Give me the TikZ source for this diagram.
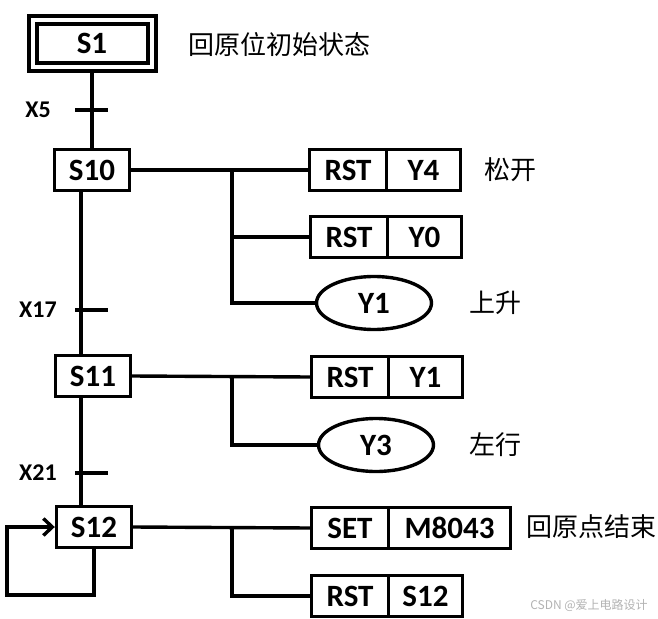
\documentclass[tikz,border=0pt]{standalone}
\usepackage{fontspec}
\setmainfont{Carlito}
\newfontfamily\cjk{Noto Sans CJK SC}
\usetikzlibrary{positioning,arrows.meta,shapes.geometric}

\tikzset{
  stepbox/.style={draw,line width=3.4pt,minimum width=75pt,minimum height=41pt,inner sep=0pt,
    font=\fontsize{31}{34}\selectfont\bfseries},
  initbox/.style={stepbox,double,line width=4pt,double distance=4pt,minimum width=119pt,minimum height=47pt},
  opbox/.style={stepbox,minimum width=77pt},
  argbox/.style={opbox,minimum width=74pt},
  coilbox/.style={stepbox,ellipse,minimum width=115pt,minimum height=53pt},
  note/.style={font=\cjk\fontsize{26}{28}\selectfont},
  cond/.style={font=\fontsize{24}{26}\selectfont\bfseries},
  link/.style={line width=3.4pt}
}

\begin{document}
\begin{tikzpicture}[x=1pt,y=-1pt]
    \useasboundingbox (0,0) rectangle (658,618);

    % Steps
    \node[initbox] (S1) at (92,43.5) {S1};
    \node[note] (n0) at (279,45) {回原位初始状态};
    \node[stepbox] (S10) at (92,170) {S10};
    \node[stepbox] (S11) at (93,376) {S11};
    \node[stepbox] (S12) at (94,527) {S12};

    % Transitions
    \node[cond] (X5) at (38,110) {X5};
    \node[cond] (X17) at (38,310) {X17};
    \node[cond] (X21) at (38,473) {X21};
    \foreach \y in {110,310,473}
        \draw[link] (75,\y) -- (108,\y);

    \coordinate (trunk) at (81,0);
    \draw[link] (S1) -- (S10);
    \draw[link] (S10.south -| trunk) -- (S11.north -| trunk);
    \draw[link] (S11.south -| trunk) -- (S12.north -| trunk);

    % Actions of S10
    \node[opbox] (rstY4) at (348,170) {RST};
    \node[argbox,right=-3.4pt of rstY4] (Y4) {Y4};
    \node[note] (n1) at (510,170) {松开};
    \node[opbox] (rstY0) at (349,237) {RST};
    \node[argbox,right=-3.4pt of rstY0] (Y0) {Y0};
    \node[coilbox] (Y1) at (374,303) {Y1};
    \node[note] (n2) at (495,303) {上升};

    % Actions of S11
    \node[opbox] (rstY1) at (350,377) {RST};
    \node[argbox,right=-3.4pt of rstY1] (Y1b) {Y1};
    \node[coilbox] (Y3) at (376,445) {Y3};
    \node[note] (n3) at (495,445) {左行};

    % Actions of S12
    \node[opbox] (setM) at (350,528) {SET};
    \node[argbox,right=-3.4pt of setM,minimum width=122pt] (M8043) {M8043};
    \node[note] (n4) at (591,527) {回原点结束};
    \node[opbox] (rstS12) at (350,596) {RST};
    \node[argbox,right=-3.4pt of rstS12] (S12b) {S12};

    % Branches
    \coordinate (br) at (232,0);
    \draw[link] (S10.east) -- (rstY4.west);
    \draw[link] (S10.east -| br) |- (rstY0.west);
    \draw[link] (S10.east -| br) |- (Y1.west);
    \draw[link] (S11.east) -- (rstY1.west);
    \draw[link] (S11.east -| br) |- (Y3.west);
    \draw[link] (S12.east) -- (setM.west);
    \draw[link] (S12.east -| br) |- (rstS12.west);

    % Self loop
    \coordinate (loop) at (7,595);
    \draw[link,-{Straight Barb[length=9pt,width=17pt]}] (S12.south) |- (loop) |- (S12.west);

    \node[font=\cjk\fontsize{12}{14}\selectfont,text=gray!60] (mark) at (589,605) {CSDN @爱上电路设计};
\end{tikzpicture}
\end{document}
